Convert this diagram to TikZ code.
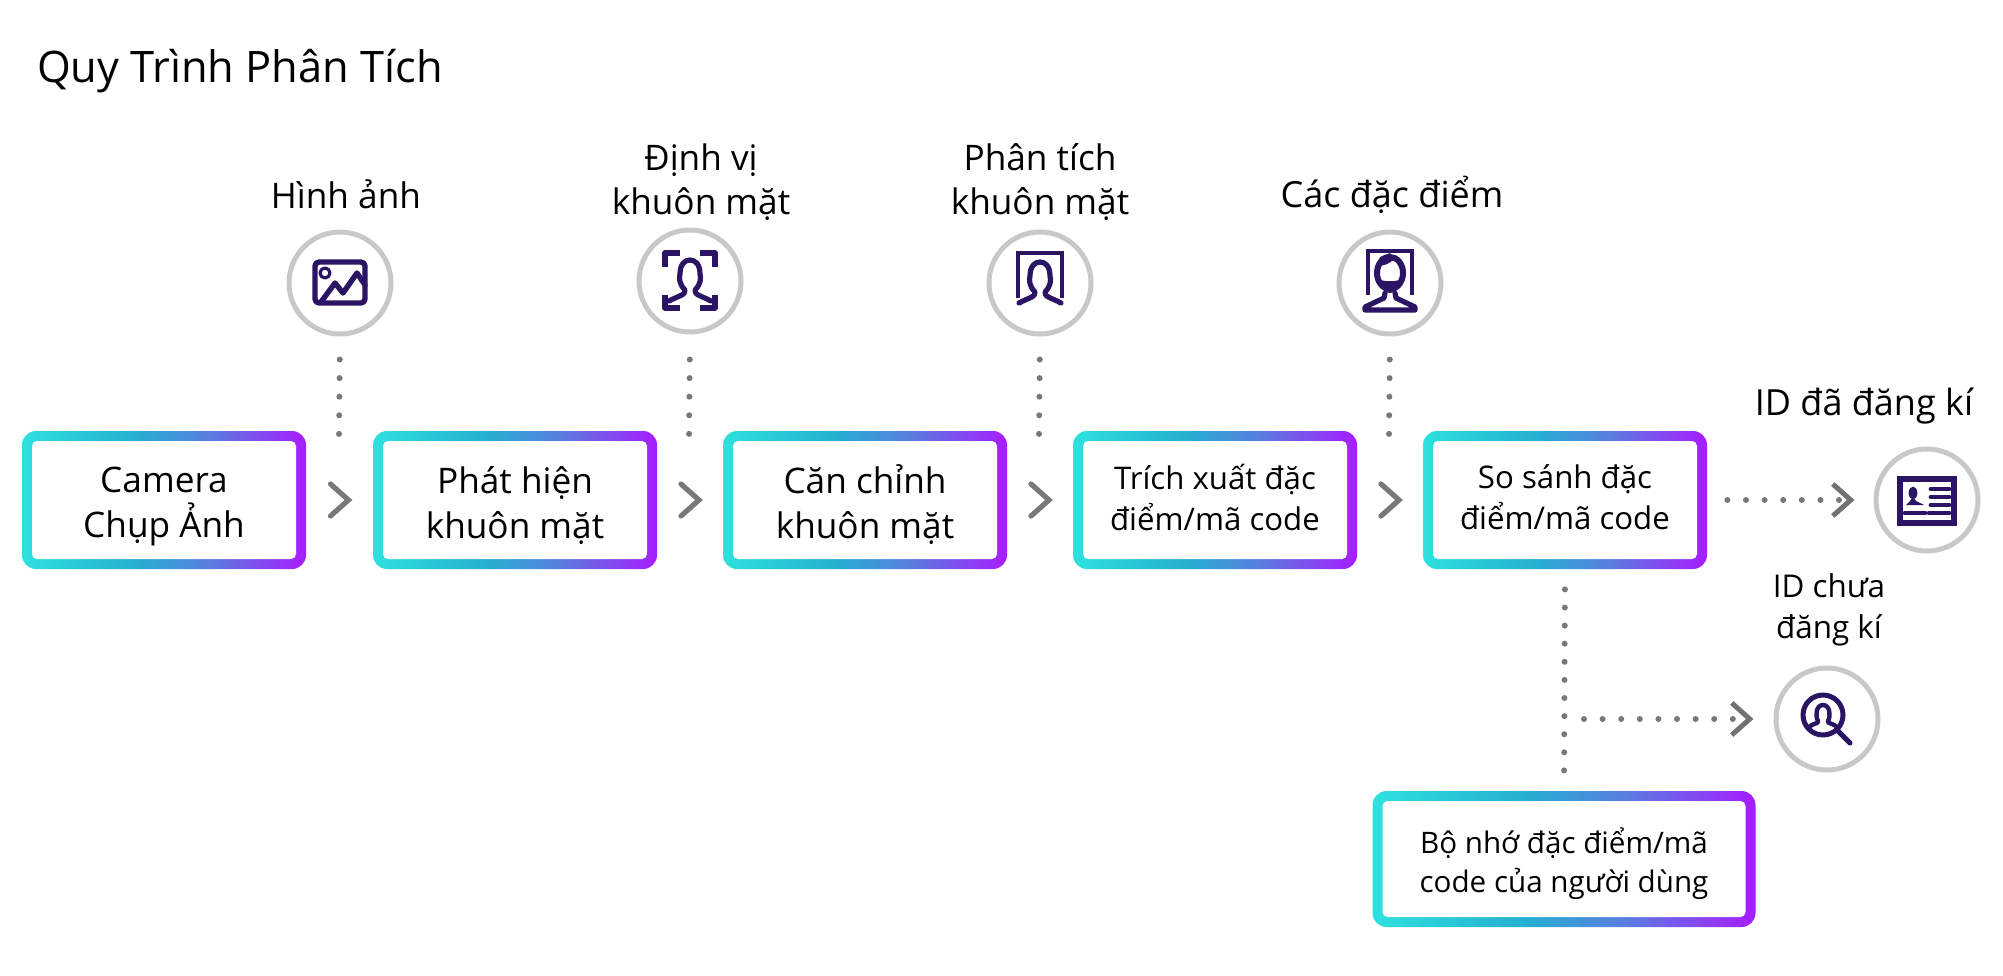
\documentclass[tikz,border=0pt]{standalone}
\usepackage{fontspec}
\setmainfont{Open Sans}
\usetikzlibrary{arrows.meta}
\definecolor{icondark}{RGB}{43,20,99}
\definecolor{ringgray}{RGB}{200,200,200}
\definecolor{dotgray}{RGB}{120,120,120}
\definecolor{gradA}{RGB}{45,225,222}
\definecolor{gradB}{RGB}{37,175,208}
\definecolor{gradC}{RGB}{90,125,224}
\definecolor{gradD}{RGB}{168,28,255}
\pgfdeclarehorizontalshading{boxgrad}{100bp}{color(0bp)=(gradA); color(25bp)=(gradA); color(45bp)=(gradB); color(58bp)=(gradC); color(75bp)=(gradD); color(100bp)=(gradD)}
\tikzset{
  gradbox/.style={shading=boxgrad,shade,rounded corners=7pt,inner sep=0pt,align=center,minimum width=#1*0.5pt,
    path picture={\fill[white,rounded corners=2.5pt] ([shift={(10,10)}]path picture bounding box.north west) rectangle ([shift={(-10,-10)}]path picture bounding box.south east);}},
  bigbox/.style={gradbox=284,minimum height=69pt,font=\fontsize{17.6}{22.5}\selectfont,execute at begin node=\rule{0pt}{42pt}},
  smallbox/.style={gradbox=284,minimum height=69pt,font=\fontsize{15.6}{20.5}\selectfont,execute at end node=\rule[-2.6pt]{0pt}{3pt}},
  ring/.style={circle,draw=ringgray,line width=2.5pt,minimum size=51pt,inner sep=0pt},
  toplabel/.style={align=center,font=\fontsize{17.6}{22}\selectfont},
  dotline/.style={draw=dotgray,line width=3pt,line cap=round,dash pattern=on 0pt off 9.3pt},
  dotarrow/.style={dotline,-{Straight Barb[length=9pt,width=16pt,line width=2.5pt,color=dotgray!95!black]}},
  iconline/.style={draw=icondark,line width=2.6pt,line cap=round,line join=round},
  chevron/.pic={\draw[draw=dotgray,line width=2.6pt,line cap=round,line join=miter] (-9,-16) -- (9,0) -- (-9,16);},
  facehead/.pic={\draw[iconline] (-21,20) .. controls (-12,15) and (-4,14) .. (-5,9) .. controls (-11,3) and (-11,-3) .. (-10,-7) .. controls (-10,-17) and (-5,-21) .. (0,-21) .. controls (5,-21) and (10,-17) .. (10,-7) .. controls (11,-3) and (11,3) .. (5,9) .. controls (4,14) and (12,15) .. (21,20);}
}
\begin{document}
\begin{tikzpicture}[x=0.5pt,y=-0.5pt]
\useasboundingbox (0,0) rectangle (2003,975);
\node[anchor=west,font=\fontsize{21.7}{24}\selectfont] (title) at (30,71) {Quy Trình Phân Tích};
% process boxes
\node[bigbox] (cam) at (164,500) {Camera\\Chụp Ảnh};
\node[bigbox] (det) at (515,500) {Phát hiện\\khuôn mặt};
\node[bigbox] (ali) at (865,500) {Căn chỉnh\\khuôn mặt};
\node[smallbox] (ext) at (1215,500) {Trích xuất đặc\\điểm/mã code};
\node[smallbox] (cmp) at (1565,500) {So sánh đặc\\điểm/mã code};
\node[gradbox=383,minimum height=68pt,font=\fontsize{14.8}{19.5}\selectfont,execute at begin node=\rule{0pt}{37pt}] (mem) at (1564,859) {Bộ nhớ đặc điểm/mã\\code của người dùng};
% rings
\node[ring] (img) at (340,283) {};
\node[ring] (loc) at (690,281) {};
\node[ring] (ana) at (1040,283) {};
\node[ring] (fea) at (1390,283) {};
\node[ring] (reg) at (1927,500) {};
\node[ring] (unr) at (1827,719) {};
% labels
\node[toplabel] (limg) at (346,194) {Hình ảnh};
\node[toplabel] (lloc) at (701,182) {Định vị\\khuôn mặt};
\node[toplabel] (lana) at (1040,182) {Phân tích\\khuôn mặt};
\node[toplabel,font=\fontsize{18}{22}\selectfont] (lfea) at (1392,195) {Các đặc điểm};
\node[toplabel,font=\fontsize{18}{22}\selectfont] (lreg) at (1864,406) {ID đã đăng kí};
\node[align=center,font=\fontsize{15.7}{20.5}\selectfont] (lunr) at (1829,610) {ID chưa\\đăng kí};
% chevrons
\path (cam) -- pic {chevron} (det);
\path (det) -- pic {chevron} (ali);
\path (ali) -- pic {chevron} (ext);
\path (ext) -- pic {chevron} (cmp);
% dotted lines
\coordinate (d1) at (339,438);
\coordinate (d2) at (689,438);
\coordinate (d3) at (1039,438);
\coordinate (d4) at (1389,438);
\draw[dotline,shorten <=11.5pt] (img.south) -- (d1);
\draw[dotline,shorten <=12.5pt] (loc.south) -- (d2);
\draw[dotline,shorten <=11.5pt] (ana.south) -- (d3);
\draw[dotline,shorten <=11.5pt] (fea.south) -- (d4);
\draw[dotarrow,shorten <=10pt,shorten >=9.5pt] (cmp.east) -- (reg.west);
\draw[dotline,dash pattern=on 0pt off 9.05pt,shorten <=10pt,shorten >=9pt] (cmp.south) -- (mem.north);
\coordinate (branch) at (cmp.south |- unr);
\draw[dotarrow,shorten <=9.5pt,shorten >=10pt] (branch) -- (unr.west);
% icon image
\begin{scope}[shift={(img)}]
\draw[iconline,line width=2.7pt,rounded corners=2pt] (-25,-21) rectangle (25,20);
\draw[iconline,line width=1.6pt] (-15,-10) circle (2.5pt);
\draw[iconline,line width=2.7pt] (-19,19) -- (-5,0) -- (3,10) -- (17,-10) -- (25,2);
\end{scope}
% icon locate
\begin{scope}[shift={(loc)}]
\draw[iconline,line width=2.6pt,line cap=butt] (-25,-14) -- (-25,-28) -- (-10,-28);
\draw[iconline,line width=2.6pt,line cap=butt] (25,-14) -- (25,-28) -- (10,-28);
\draw[iconline,line width=2.6pt,line cap=butt] (-25,14) -- (-25,27) -- (-10,27);
\draw[iconline,line width=2.6pt,line cap=butt] (25,14) -- (25,27) -- (10,27);
\pic {facehead};
\end{scope}
% icon analyse
\begin{scope}[shift={(ana)}]
\draw[iconline,line width=2.4pt,line cap=butt,line join=miter] (-22,15) -- (-22,-30) -- (22,-30) -- (22,15);
\pic {facehead};
\end{scope}
% icon features
\begin{scope}[shift={(fea)}]
\draw[iconline,line width=2.4pt,line cap=butt,line join=miter] (-22,12) -- (-22,-32) -- (22,-32) -- (22,12);
\draw[iconline,line width=3pt,fill=white] (0,-10) ellipse (6.5pt and 8pt);
\fill[icondark] (-12,-4) .. controls (-6,-1) and (6,-1) .. (12,-4) .. controls (11,6) and (4,10) .. (0,10) .. controls (-4,10) and (-11,6) .. (-12,-4) -- cycle;
\fill[icondark] (-13,-18) .. controls (-6,-16) and (0,-20) .. (4,-24) -- (0,-30) -- (-10,-26) -- cycle;
\draw[iconline] (-5,10) -- (-6,15) -- (-25,24) -- (-25,27) -- (25,27) -- (25,24) -- (6,15) -- (5,10);
\end{scope}
% icon registered
\begin{scope}[shift={(reg)}]
\draw[iconline,line width=2.7pt,line join=miter] (-27,-21) rectangle (27,23);
\fill[icondark] (-14,-7) ellipse (2.2pt and 3.2pt);
\fill[icondark] (-21,5) -- (-17,1) -- (-15,-2) -- (-13,-2) -- (-11,1) -- (-3,5) -- cycle;
\foreach \ly in {-11,-3,5} \draw[iconline,line width=2.4pt] (4,\ly) -- (22,\ly);
\draw[iconline,line width=2.4pt] (-22,13) -- (-2,13);
\draw[iconline,line width=2.4pt] (2,13) -- (22,13);
\end{scope}
% icon unregistered
\begin{scope}[shift={(unr)}]
\draw[iconline,line width=2.5pt] (-4,-4) circle (10pt);
\draw[iconline,line width=2.5pt] (11,12) -- (23,24);
\draw[iconline,line width=2.2pt] (-19,9) .. controls (-13,3) and (-8,5) .. (-9,2) .. controls (-12,-3) and (-11,-14) .. (-4,-14) .. controls (3,-14) and (4,-3) .. (1,2) .. controls (0,5) and (5,3) .. (11,9);
\end{scope}
\end{tikzpicture}
\end{document}
